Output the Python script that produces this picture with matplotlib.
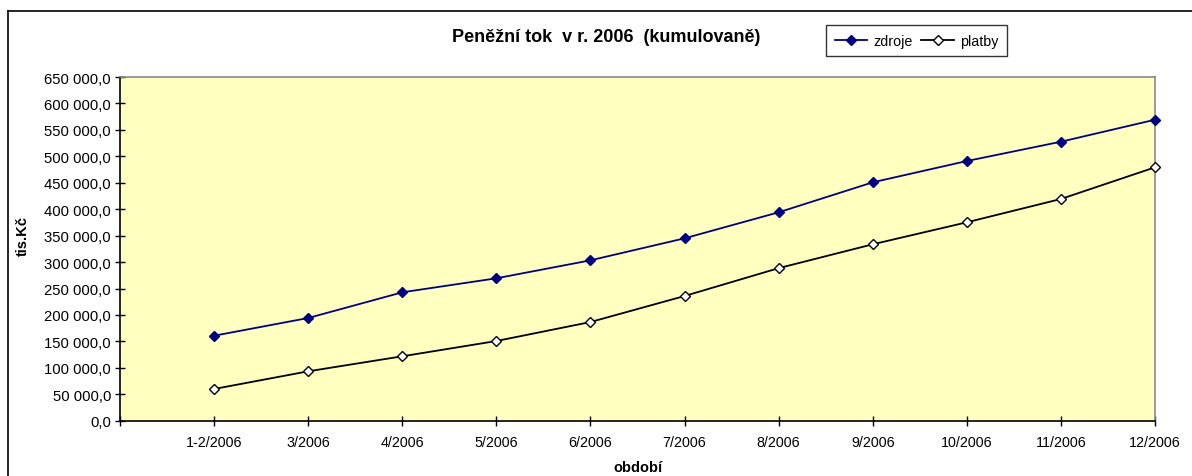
import matplotlib
matplotlib.use("Agg")
import matplotlib.pyplot as plt
from matplotlib.ticker import FuncFormatter, MultipleLocator
from matplotlib.lines import Line2D

plt.rcParams['font.family'] = ['Liberation Sans', 'DejaVu Sans']

categories = ['1-2/2006', '3/2006', '4/2006', '5/2006', '6/2006', '7/2006',
              '8/2006', '9/2006', '10/2006', '11/2006', '12/2006']
zdroje = [160700, 194200, 242800, 269300, 303300, 344900, 394100, 450800, 491100, 527600, 569200]
platby = [60000, 93400, 121800, 150700, 186600, 235800, 288500, 333600, 375200, 419300, 479200]

title = 'Peněžní tok  v r. 2006  (kumulovaně)'
ylabel = 'tis.Kč'
xlabel = 'období'

W, H = 1192, 477
fig = plt.figure(figsize=(W / 100, H / 100), dpi=100)
fig.patch.set_facecolor('white')

L, R, T, B = 120, 1155, 78, 421.7
ax = fig.add_axes([L / W, 1 - B / H, (R - L) / W, (B - T) / H])
ax.set_facecolor('#FFFFC0')

x = list(range(len(categories)))
ax.plot(x, zdroje, color='#000080', lw=1.3, marker='D', ms=5.5,
        mfc='#000080', mec='#000080', mew=1, label='zdroje', clip_on=False, zorder=3)
ax.plot(x, platby, color='black', lw=1.3, marker='D', ms=5.5,
        mfc='white', mec='black', mew=1, label='platby', clip_on=False, zorder=3)

ax.set_xlim(-1, len(categories) - 1)
ax.set_ylim(0, 650000)
ax.yaxis.set_major_locator(MultipleLocator(50000))


def fmt(v, pos):
    return f"{v:,.1f}".replace(',', ' ').replace('.', ',')


ax.yaxis.set_major_formatter(FuncFormatter(fmt))
ax.set_xticks([-1] + x)
ax.set_xticklabels([''] + categories)

ax.tick_params(axis='both', direction='inout', length=7, width=1, colors='black')
ax.tick_params(axis='x', pad=7, labelsize=10.3)
ax.tick_params(axis='y', pad=3, labelsize=10.7)

for side in ['left', 'bottom']:
    ax.spines[side].set_color('black')
    ax.spines[side].set_linewidth(1.2)
for side in ['top', 'right']:
    ax.spines[side].set_color('#888888')
    ax.spines[side].set_linewidth(1.2)

ax.set_xlabel(xlabel, fontsize=10.5, fontweight='bold')
ax.xaxis.set_label_coords(0.5, (B - 461) / (B - T))
ax.set_ylabel(ylabel, fontsize=10.5, fontweight='bold')
ax.yaxis.set_label_coords((30 - L) / (R - L), (B - 236) / (B - T))

fig.text(606 / W, 1 - 38 / H, title, ha='center', va='center',
         fontsize=13, fontweight='bold')

leg = fig.legend(loc='upper left', bbox_to_anchor=(826 / W, 1 - 26 / H), ncol=2,
                 frameon=True, fancybox=False, fontsize=10.3, handlelength=2.3,
                 handletextpad=0.4, columnspacing=0.6, borderpad=0.6,
                 borderaxespad=0)
leg.get_frame().set_edgecolor('black')
leg.get_frame().set_linewidth(1.0)

fig.add_artist(Line2D([8 / W, 1], [1 - 12 / H, 1 - 12 / H], color='black', lw=1.2,
                      transform=fig.transFigure))
fig.add_artist(Line2D([8 / W, 8 / W], [0, 1 - 12 / H], color='black', lw=1.2,
                      transform=fig.transFigure))

fig.savefig('out.png', dpi=100)
